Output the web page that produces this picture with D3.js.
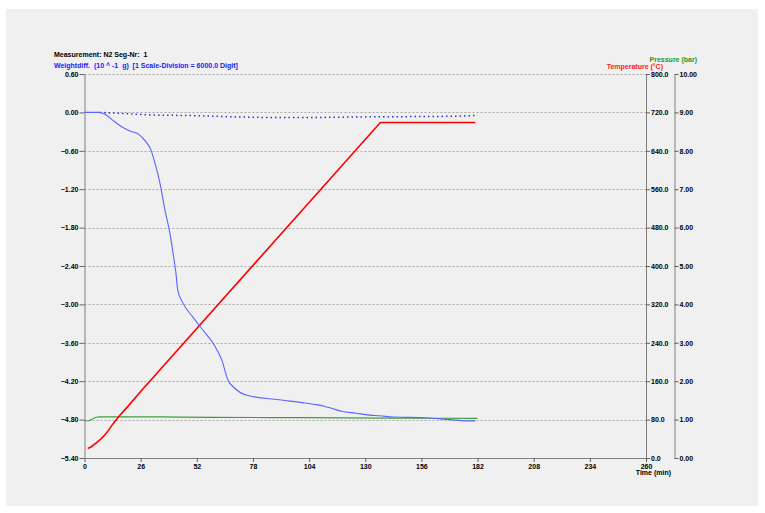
<!DOCTYPE html>
<html>
<head>
<meta charset="utf-8">
<script src="https://cdn.jsdelivr.net/npm/d3@7"></script>
<style>
  body { margin: 0; background: #fff; }
  text { font-family: "Liberation Sans", Arial, sans-serif; font-weight: bold; font-size: 7px; white-space: pre; }
</style>
</head>
<body>
<script>
// weight difference (10^-1 g), solid blue
var weightTime = [0, 7, 10, 13, 17, 21, 25, 28, 30.8, 32.6, 34.9, 37.2, 39.5, 41, 42.3, 43.2, 45.6, 50.2, 54.8, 59.4, 63.6, 66.4, 69.6, 75.2, 90, 102, 106, 111, 115, 119, 125.6, 132, 136.7, 143, 158, 169, 177, 181];
var weightValues = [0, 0, -0.04, -0.12, -0.22, -0.29, -0.34, -0.44, -0.59, -0.79, -1.10, -1.52, -1.88, -2.2, -2.5, -2.78, -2.98, -3.2, -3.4, -3.6, -3.87, -4.18, -4.31, -4.42, -4.49, -4.54, -4.56, -4.59, -4.63, -4.67, -4.70, -4.73, -4.74, -4.76, -4.77, -4.80, -4.82, -4.82];
// correction curve, dotted blue
var corrTime = [7, 10, 20, 30, 50, 70, 90, 110, 130, 150, 170, 182];
var corrValues = [0, -0.005, -0.02, -0.04, -0.05, -0.07, -0.08, -0.078, -0.07, -0.066, -0.06, -0.045];
// temperature (°C)
var tempTime = [1.5, 3, 5, 7, 9, 11, 13, 16, 20, 25.7, 137, 181];
var tempValues = [20, 23, 30, 37, 46, 57, 70, 87, 107, 137, 699, 699];
// pressure (bar)
var pressTime = [0, 2, 4, 7, 30, 60, 100, 140, 182];
var pressValues = [0.97, 0.97, 1.03, 1.07, 1.07, 1.06, 1.05, 1.04, 1.03];

var timeTicks = [0, 26, 52, 78, 104, 130, 156, 182, 208, 234, 260];
var weightTicks = [0.6, 0, -0.6, -1.2, -1.8, -2.4, -3.0, -3.6, -4.2, -4.8, -5.4];
var tempTicks = [0, 80, 160, 240, 320, 400, 480, 560, 640, 720, 800];
var pressTicks = [0, 1, 2, 3, 4, 5, 6, 7, 8, 9, 10];

var W = 765, H = 513;
var plotL = 84.5, plotR = 646, plotT = 74, plotB = 458;

var svg = d3.select('body').append('svg')
    .attr('width', W)
    .attr('height', H);

svg.append('rect')
    .attr('x', 6).attr('y', 9)
    .attr('width', 752).attr('height', 497)
    .attr('fill', '#f0f0f0');

var x = d3.scaleLinear().domain([0, 260]).range([plotL, plotR]);
var yW = d3.scaleLinear().domain([-5.4, 0.6]).range([plotB, plotT]);
var yT = d3.scaleLinear().domain([0, 800]).range([plotB, plotT]);
var yP = d3.scaleLinear().domain([0, 10]).range([plotB, plotT]);

// grid
svg.append('g').selectAll('line')
    .data(weightTicks.filter(d => d > -5.4))
    .enter().append('line')
    .attr('x1', plotL).attr('x2', plotR)
    .attr('y1', d => Math.round(yW(d)) + 0.5)
    .attr('y2', d => Math.round(yW(d)) + 0.5)
    .attr('stroke', '#a8a8a8')
    .attr('stroke-dasharray', '2,2');

function styleAxis(g) {
    g.selectAll('.domain').attr('stroke', '#808080');
    g.selectAll('.tick line').attr('stroke', '#606060');
    g.selectAll('text').attr('fill', '#000').style('font-family', '"Liberation Sans", Arial, sans-serif')
        .style('font-weight', 'bold').style('font-size', '7px');
}

svg.append('g')
    .attr('transform', `translate(${plotL},0)`)
    .call(d3.axisLeft(yW).tickValues(weightTicks).tickFormat(d3.format('.2f')).tickSize(5).tickPadding(1).tickSizeOuter(0))
    .call(styleAxis);

svg.append('g')
    .attr('transform', `translate(0,${plotB})`)
    .call(d3.axisBottom(x).tickValues(timeTicks).tickFormat(d3.format('d')).tickSize(4).tickPadding(2).tickSizeOuter(0))
    .call(styleAxis);

svg.append('g')
    .attr('transform', `translate(${plotR},0)`)
    .call(d3.axisRight(yT).tickValues(tempTicks).tickFormat(d3.format('.1f')).tickSize(4).tickPadding(1).tickSizeOuter(0))
    .call(styleAxis);

svg.append('g')
    .attr('transform', `translate(674.5,0)`)
    .call(d3.axisRight(yP).tickValues(pressTicks).tickFormat(d3.format('.2f')).tickSize(4).tickPadding(1).tickSizeOuter(0))
    .call(styleAxis);

// series
function drawLine(ts, vs, yScale, color, width, dash, curve) {
    var line = d3.line()
        .x((d, i) => x(ts[i]))
        .y(d => yScale(d))
        .curve(curve || d3.curveMonotoneX);
    var p = svg.append('path')
        .datum(vs)
        .attr('d', line)
        .attr('fill', 'none')
        .attr('stroke', color)
        .attr('stroke-width', width);
    if (dash) p.attr('stroke-dasharray', dash);
}

drawLine(pressTime, pressValues, yP, '#3f9f3f', 1.2);
drawLine(corrTime, corrValues, yW, '#2a36c8', 1.5, '1.5,3');
drawLine(tempTime, tempValues, yT, '#ff0000', 1.6, null, d3.curveLinear);
drawLine(weightTime, weightValues, yW, '#5a64ff', 1.1);

// titles
svg.append('text').attr('x', 54).attr('y', 57).attr('fill', '#000')
    .text('Measurement: N2 Seg-Nr:  1');
svg.append('text').attr('x', 54).attr('y', 68).attr('fill', '#1a1aff')
    .text('Weightdiff.  (10 ^ -1  g)  [1 Scale-Division = 6000.0 Digit]');
svg.append('text').attr('x', 697).attr('y', 62).attr('fill', '#1a9a1a')
    .attr('text-anchor', 'end').text('Pressure (bar)');
svg.append('text').attr('x', 663).attr('y', 69).attr('fill', '#ff2020')
    .attr('text-anchor', 'end').text('Temperature (°C)');
svg.append('text').attr('x', 671).attr('y', 475).attr('fill', '#000')
    .attr('text-anchor', 'end').text('Time (min)');
</script>
</body>
</html>
